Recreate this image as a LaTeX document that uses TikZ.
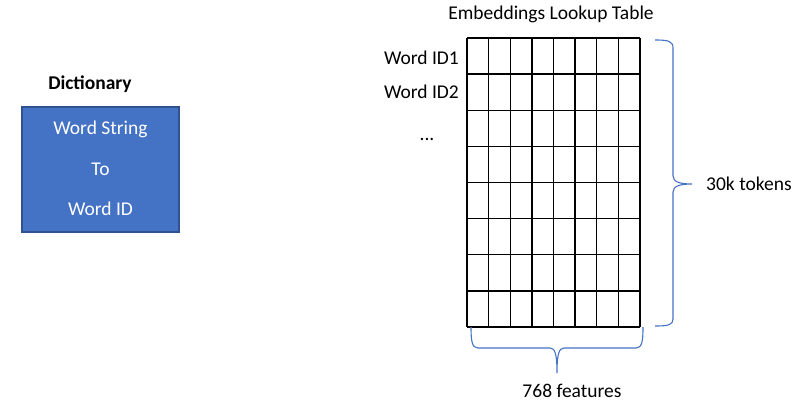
\documentclass[tikz,border=0pt]{standalone}
\usepackage{fontspec}
\setmainfont{Carlito}
\usetikzlibrary{calc}
\definecolor{boxfill}{HTML}{4472C4}
\definecolor{boxline}{HTML}{2F528F}
\definecolor{bracec}{HTML}{4472C4}
\begin{document}
\begin{tikzpicture}[x=1pt,y=-1pt,
  lbl/.style={font=\fontsize{19.5}{23}\selectfont, inner sep=0pt, text height=13pt, text depth=1pt},
  gridline/.style={line width=1.3pt, black},
  bracestyle/.style={line width=1.1pt, bracec},
  dictbox/.style={draw=boxline, line width=1.5pt, fill=boxfill, minimum width=157pt, minimum height=125pt, inner sep=0pt},
  boxtext/.style={lbl, text=white}
]
\useasboundingbox (0,0) rectangle (810,417);
% dictionary
\node[lbl, font=\fontsize{19.5}{23}\selectfont\bfseries] (dictlbl) at (90,83.5) {Dictionary};
\node[dictbox] (dict) at (100.5,169.5) {};
\node[boxtext] (t1) at (100.5,128.5) {Word String};
\node[boxtext] (t2) at (100.5,169.5) {To};
\node[boxtext] (t3) at (100.5,209.5) {Word ID};
% table
\node[lbl] (title) at (551,14) {Embeddings Lookup Table};
\coordinate (tl) at (467,38);
\coordinate (br) at (640,327);
\foreach \i in {0,...,8} {
  \draw[gridline] ($(tl)!\i/8!(tl-|br)$) coordinate (c\i) -- (c\i|-br);
  \draw[gridline] ($(tl)!\i/8!(tl|-br)$) coordinate (r\i) -- (r\i-|br);
}
\node[lbl, anchor=east] (id1) at (459,59) {Word ID1};
\node[lbl, anchor=east] (id2) at (459,93) {Word ID2};
\node[lbl] (dots) at (427,134) {...};
% right brace
\coordinate (rb1) at (655,40);
\coordinate (rbtip) at (692,184);
\coordinate (rb2) at (655,326);
\draw[bracestyle] (rb1) .. controls (668,40) and (673,41) .. (673,48)
  -- (673,176) .. controls (673,182) and (680,184) .. (rbtip)
  .. controls (680,184) and (673,186) .. (673,192)
  -- (673,319) .. controls (673,325) and (668,326) .. (rb2);
\node[lbl, anchor=west] (tok) at (706,184) {30k tokens};
% bottom brace
\coordinate (bb1) at (471,327);
\coordinate (bbtip) at (557,373);
\coordinate (bb2) at (643,327);
\draw[bracestyle] (bb1) .. controls (471,341) and (472,348) .. (478,348)
  -- (550,348) .. controls (555,348) and (557,354) .. (bbtip)
  .. controls (557,354) and (559,348) .. (564,348)
  -- (636,348) .. controls (642,348) and (643,341) .. (bb2);
\node[lbl] (feat) at (572,391) {768 features};
\end{tikzpicture}
\end{document}
